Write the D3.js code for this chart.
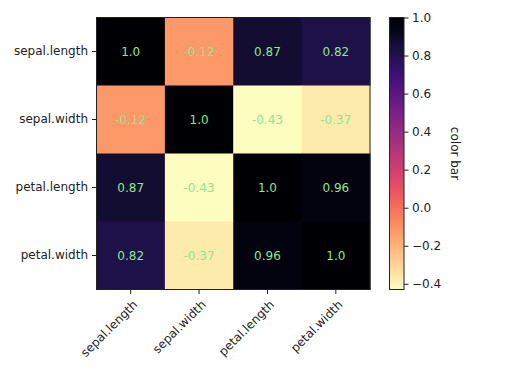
<!DOCTYPE html>
<html>
<head>
<meta charset="utf-8">
<script src="https://cdn.jsdelivr.net/npm/d3@7"></script>
<style>
  body { margin: 0; background: #fff; }
  text { font-family: "DejaVu Sans", sans-serif; }
</style>
</head>
<body>
<svg id="chart" width="516" height="371"></svg>
<script>
const categories = ["sepal.length", "sepal.width", "petal.length", "petal.width"];
const corrValues = [
  [1.0, -0.12, 0.87, 0.82],
  [-0.12, 1.0, -0.43, -0.37],
  [0.87, -0.43, 1.0, 0.96],
  [0.82, -0.37, 0.96, 1.0]
];
const cellLabels = [
  ["1.0", "-0.12", "0.87", "0.82"],
  ["-0.12", "1.0", "-0.43", "-0.37"],
  ["0.87", "-0.43", "1.0", "0.96"],
  ["0.82", "-0.37", "0.96", "1.0"]
];
const colorbarTicks = [1.0, 0.8, 0.6, 0.4, 0.2, 0.0, -0.2, -0.4];
const colorbarLabel = "color bar";

const svg = d3.select("#chart");
const X0 = 96.5, X1 = 370, Y0 = 17.5, Y1 = 289.5;
const CB0 = 389.5, CB1 = 404;

const x = d3.scaleBand().domain(categories).range([X0, X1]);
const y = d3.scaleBand().domain(categories).range([Y0, Y1]);

const flat = corrValues.flat();
const ext = d3.extent(flat);
const color = d3.scaleSequential(t => d3.interpolateMagma(1 - t)).domain(ext);

const cells = [];
corrValues.forEach((row, i) => row.forEach((v, j) => cells.push({i, j, v, label: cellLabels[i][j]})));

svg.append("g").selectAll("rect").data(cells).join("rect")
  .attr("x", d => x(categories[d.j]))
  .attr("y", d => y(categories[d.i]))
  .attr("width", x.bandwidth() + 0.5)
  .attr("height", y.bandwidth() + 0.5)
  .attr("fill", d => color(d.v));

svg.append("g").selectAll("text").data(cells).join("text")
  .attr("x", d => x(categories[d.j]) + x.bandwidth() / 2)
  .attr("y", d => y(categories[d.i]) + y.bandwidth() / 2)
  .attr("text-anchor", "middle")
  .attr("dy", "0.36em")
  .attr("font-size", 12)
  .attr("fill", "#8ee68e")
  .text(d => d.label);

// frame
svg.append("rect")
  .attr("x", X0).attr("y", Y0).attr("width", X1 - X0).attr("height", Y1 - Y0)
  .attr("fill", "none").attr("stroke", "#222").attr("stroke-width", 1);

// y axis
const yAxis = svg.append("g").attr("transform", `translate(${X0},0)`)
  .call(d3.axisLeft(y).tickSize(4.5).tickPadding(4));
yAxis.select(".domain").remove();
yAxis.selectAll("text").attr("font-size", 12).attr("fill", "#222").style("font-family", "DejaVu Sans");
yAxis.selectAll("line").attr("stroke", "#222");

// x axis
const xAxis = svg.append("g").attr("transform", `translate(0,${Y1})`)
  .call(d3.axisBottom(x).tickSize(4.5).tickPadding(4));
xAxis.select(".domain").remove();
xAxis.selectAll("line").attr("stroke", "#222");
xAxis.selectAll("text")
  .attr("font-size", 12).attr("fill", "#222").style("font-family", "DejaVu Sans")
  .attr("text-anchor", "end")
  .attr("y", 0).attr("dy", "0.76em")
  .attr("transform", "translate(1,9.5) rotate(-45)");

// colorbar
const cbScale = d3.scaleLinear().domain(ext).range([Y1, Y0]);
const defs = svg.append("defs");
const grad = defs.append("linearGradient").attr("id", "cbgrad")
  .attr("x1", 0).attr("y1", 1).attr("x2", 0).attr("y2", 0);
d3.range(0, 1.0001, 0.02).forEach(t => {
  grad.append("stop").attr("offset", t).attr("stop-color", color(ext[0] + t * (ext[1] - ext[0])));
});
svg.append("rect")
  .attr("x", CB0).attr("y", Y0).attr("width", CB1 - CB0).attr("height", Y1 - Y0)
  .attr("fill", "url(#cbgrad)").attr("stroke", "#222").attr("stroke-width", 1);

const fmt = d => d3.format(".1f")(d).replace("-", "\u2212");
const cbAxis = svg.append("g").attr("transform", `translate(${CB1},0)`)
  .call(d3.axisRight(cbScale).tickValues(colorbarTicks).tickFormat(fmt).tickSize(4.5).tickPadding(3.5));
cbAxis.select(".domain").remove();
cbAxis.selectAll("line").attr("stroke", "#222");
cbAxis.selectAll("text").attr("font-size", 12).attr("fill", "#222").style("font-family", "DejaVu Sans");

svg.append("text")
  .attr("transform", `translate(451,${(Y0 + Y1) / 2}) rotate(90)`)
  .attr("text-anchor", "middle")
  .attr("font-size", 12)
  .attr("fill", "#222")
  .text(colorbarLabel);
</script>
</body>
</html>
